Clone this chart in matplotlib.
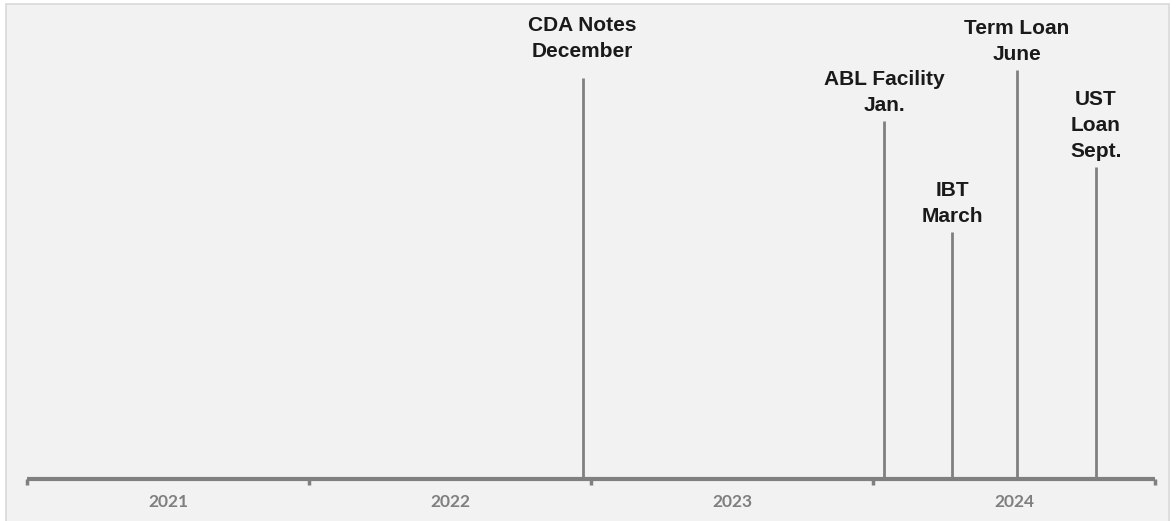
import matplotlib
matplotlib.use("Agg")
import matplotlib.pyplot as plt
from matplotlib.patches import Rectangle

# Data
years = ["2021", "2022", "2023", "2024"]
event_labels = ["CDA Notes\nDecember", "ABL Facility\nJan.", "IBT\nMarch",
                "Term Loan\nJune", "UST\nLoan\nSept."]
event_pos = [1.97, 3.04, 3.28, 3.51, 3.79]      # position in years from start of 2021
event_height = [401, 358, 247, 409, 312]        # line heights (arbitrary units)

W, H = 1171, 521
fig = plt.figure(figsize=(W / 100, H / 100), dpi=100, facecolor="white")
# background panel
fig.patches.append(Rectangle((6 / W, -0.01), (1169 - 6) / W, (H - 4) / H + 0.01,
                             transform=fig.transFigure, facecolor="#f2f2f2",
                             edgecolor="#d9d9d9", linewidth=1.2, zorder=-10))

ax = fig.add_axes([27 / W, (H - 479) / H, (1155 - 27) / W, 479 / H])
ax.set_facecolor("none")
ax.set_xlim(0, len(years))
ax.set_ylim(0, 479)

grey = "#808080"
ax.vlines(event_pos, 0, event_height, color=grey, linewidth=2)
for i, (x, h, lab) in enumerate(zip(event_pos, event_height, event_labels)):
    gap = 12 if i == 0 else 4
    ax.annotate(lab, (x, h), xytext=(0, gap), textcoords="offset points",
                ha="center", va="bottom", fontsize=15, fontweight="bold",
                family=["Liberation Sans", "DejaVu Sans"], color="#1a1a1a",
                linespacing=1.49)

for s in ["top", "left", "right"]:
    ax.spines[s].set_visible(False)
ax.spines["bottom"].set_color(grey)
ax.spines["bottom"].set_linewidth(3)
ax.spines["bottom"].set_capstyle("butt")

ax.set_yticks([])
ax.set_xticks(range(len(years) + 1))
ax.set_xticklabels([])
ax.tick_params(axis="x", which="major", direction="out", length=4, width=2.5, color=grey)
ax.set_xticks([i + 0.5 for i in range(len(years))], minor=True)
ax.set_xticklabels(years, minor=True, fontsize=12.5, fontweight="bold",
                   family=["Lato", "DejaVu Sans"], color="#7f7f7f")
ax.tick_params(axis="x", which="minor", length=0, pad=11)

fig.savefig("out.png", dpi=100, facecolor="white")
